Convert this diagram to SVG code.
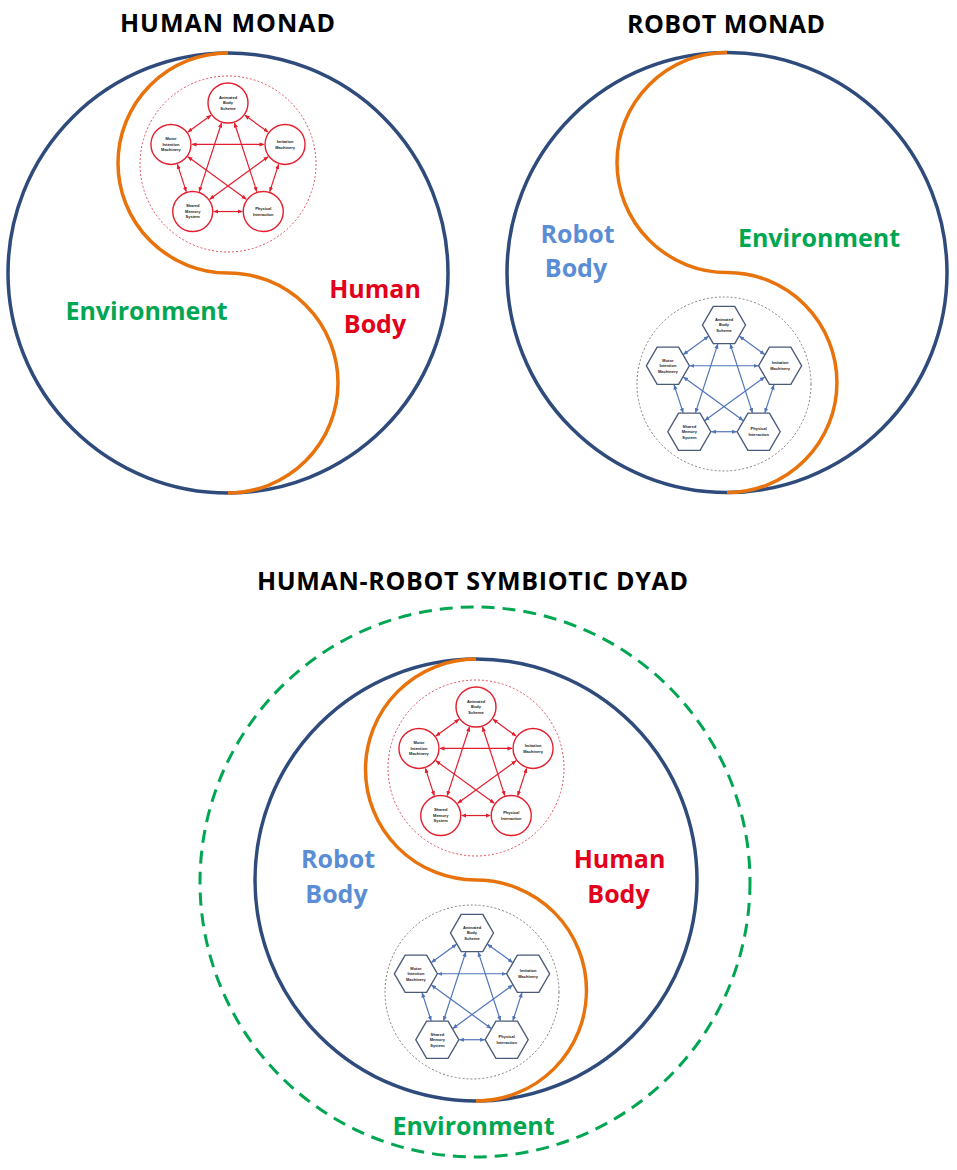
<svg xmlns="http://www.w3.org/2000/svg" width="957" height="1170" viewBox="0 0 957 1170">
<style>
.title{font-family:"Open Sans","Liberation Sans",sans-serif;font-weight:bold;font-size:25px;fill:#000;text-anchor:middle}
.lbl{font-family:"Open Sans","Liberation Sans",sans-serif;font-weight:bold;font-size:25px;text-anchor:middle}
.env{fill:#00a651}
.hum{fill:#e3001b}
.rob{fill:#5b8dd6}
.monad{fill:none;stroke:#2f4b7c;stroke-width:3.5}
.body{fill:none;stroke:#e8730c;stroke-width:3.5}
.envring{fill:none;stroke:#00a651;stroke-width:3;stroke-dasharray:13 8}
.rnode circle{fill:#fff;stroke:#e31e2d;stroke-width:1.4}
.hnode polygon{fill:#fff;stroke:#4a5a78;stroke-width:1.4}
.nt{font-family:"Liberation Sans",Arial,sans-serif;font-size:4px;font-weight:bold;fill:#222;text-anchor:middle}
.redge line{stroke:#e31e2d;stroke-width:1.2;marker-start:url(#ar);marker-end:url(#ar)}
.bedge line{stroke:#4f74b8;stroke-width:1.2;marker-start:url(#ab);marker-end:url(#ab)}
.rdot{fill:none;stroke:#e0505e;stroke-width:1;stroke-dasharray:2 2}
.gdot{fill:none;stroke:#7f7f7f;stroke-width:1;stroke-dasharray:2 2}
</style>
<defs>
<marker id="ar" viewBox="0 0 6 6" refX="5.5" refY="3" markerWidth="5" markerHeight="5" markerUnits="userSpaceOnUse" orient="auto-start-reverse"><path d="M0,0.5 L6,3 L0,5.5 z" fill="#e31e2d"/></marker>
<marker id="ab" viewBox="0 0 6 6" refX="5.5" refY="3" markerWidth="5" markerHeight="5" markerUnits="userSpaceOnUse" orient="auto-start-reverse"><path d="M0,0.5 L6,3 L0,5.5 z" fill="#4f74b8"/></marker>
</defs>
<rect width="957" height="1170" fill="#fff"/>

<!-- ===== HUMAN MONAD ===== -->
<text class="title" x="227.5" y="32" textLength="215">HUMAN MONAD</text>
<g id="human-monad">
<circle class="monad" cx="228" cy="273" r="220"/>
<path class="body" d="M228,53 A110,110 0 0 0 228,273 A110,110 0 0 1 228,493"/>
</g>
<g id="hm-network" transform="translate(228,163)">
<circle class="rdot" cx="0" cy="1" r="88"/>
<g class="redge" id="hm-connectors">
<line x1="16.99" y1="-47.65" x2="40.07" y2="-30.89"/>
<line x1="-16.99" y1="-47.65" x2="-40.07" y2="-30.89"/>
<line x1="50.57" y1="1.43" x2="41.76" y2="28.57"/>
<line x1="-50.57" y1="1.43" x2="-41.76" y2="28.57"/>
<line x1="-14.27" y1="48.54" x2="14.27" y2="48.54"/>
<line x1="6.49" y1="-40.03" x2="28.78" y2="28.57"/>
<line x1="-6.49" y1="-40.03" x2="-28.78" y2="28.57"/>
<line x1="-36.06" y1="-18.54" x2="36.06" y2="-18.54"/>
<line x1="-40.07" y1="-6.19" x2="18.28" y2="36.19"/>
<line x1="40.07" y1="-6.19" x2="-18.28" y2="36.19"/>
</g>
<g class="rnode" id="hm-animated" transform="translate(0,-60)"><circle r="20"/><text class="nt"><tspan x="0" y="-4.1">Animated</tspan><tspan x="0" y="1.4">Body</tspan><tspan x="0" y="6.9">Scheme</tspan></text></g>
<g class="rnode" id="hm-imitation" transform="translate(57.06,-18.54)"><circle r="20"/><text class="nt"><tspan x="0" y="-1.35">Imitation</tspan><tspan x="0" y="4.15">Machinery</tspan></text></g>
<g class="rnode" id="hm-physical" transform="translate(35.27,48.54)"><circle r="20"/><text class="nt"><tspan x="0" y="-1.35">Physical</tspan><tspan x="0" y="4.15">Interaction</tspan></text></g>
<g class="rnode" id="hm-shared" transform="translate(-35.27,48.54)"><circle r="20"/><text class="nt"><tspan x="0" y="-4.1">Shared</tspan><tspan x="0" y="1.4">Memory</tspan><tspan x="0" y="6.9">System</tspan></text></g>
<g class="rnode" id="hm-motor" transform="translate(-57.06,-18.54)"><circle r="20"/><text class="nt"><tspan x="0" y="-4.1">Motor</tspan><tspan x="0" y="1.4">Intention</tspan><tspan x="0" y="6.9">Machinery</tspan></text></g>
</g>
<text class="lbl env" x="146.5" y="320">Environment</text>
<text class="lbl hum" x="375" y="298">Human</text>
<text class="lbl hum" x="375" y="333">Body</text>

<!-- ===== ROBOT MONAD ===== -->
<text class="title" x="726" y="33" textLength="198">ROBOT MONAD</text>
<g id="robot-monad">
<circle class="monad" cx="727" cy="272.5" r="220"/>
<path class="body" d="M727,52.5 A110,110 0 0 0 727,272.5 A110,110 0 0 1 727,492.5"/>
</g>
<g id="rm-network" transform="translate(724,384)">
<circle class="gdot" cx="0" cy="0" r="87"/>
<g class="bedge" id="rm-connectors">
<line x1="15.53" y1="-47.71" x2="40.58" y2="-29.52"/>
<line x1="-15.53" y1="-47.71" x2="-40.58" y2="-29.52"/>
<line x1="49.90" y1="0.89" x2="40.89" y2="28.61"/>
<line x1="-49.90" y1="0.89" x2="-40.89" y2="28.61"/>
<line x1="-12.68" y1="47.73" x2="12.68" y2="47.73"/>
<line x1="6.21" y1="-39.88" x2="28.47" y2="28.61"/>
<line x1="-6.21" y1="-39.88" x2="-28.47" y2="28.61"/>
<line x1="-34.11" y1="-18.23" x2="34.11" y2="-18.23"/>
<line x1="-40.58" y1="-6.94" x2="19.15" y2="36.44"/>
<line x1="40.58" y1="-6.94" x2="-19.15" y2="36.44"/>
</g>
<g class="hnode" id="rm-animated" transform="translate(0,-59)"><polygon points="21.5,0 10.75,18.62 -10.75,18.62 -21.5,0 -10.75,-18.62 10.75,-18.62"/><text class="nt"><tspan x="0" y="-4.1">Animated</tspan><tspan x="0" y="1.4">Body</tspan><tspan x="0" y="6.9">Scheme</tspan></text></g>
<g class="hnode" id="rm-imitation" transform="translate(56.11,-18.23)"><polygon points="21.5,0 10.75,18.62 -10.75,18.62 -21.5,0 -10.75,-18.62 10.75,-18.62"/><text class="nt"><tspan x="0" y="-1.35">Imitation</tspan><tspan x="0" y="4.15">Machinery</tspan></text></g>
<g class="hnode" id="rm-physical" transform="translate(34.68,47.73)"><polygon points="21.5,0 10.75,18.62 -10.75,18.62 -21.5,0 -10.75,-18.62 10.75,-18.62"/><text class="nt"><tspan x="0" y="-1.35">Physical</tspan><tspan x="0" y="4.15">Interaction</tspan></text></g>
<g class="hnode" id="rm-shared" transform="translate(-34.68,47.73)"><polygon points="21.5,0 10.75,18.62 -10.75,18.62 -21.5,0 -10.75,-18.62 10.75,-18.62"/><text class="nt"><tspan x="0" y="-4.1">Shared</tspan><tspan x="0" y="1.4">Memory</tspan><tspan x="0" y="6.9">System</tspan></text></g>
<g class="hnode" id="rm-motor" transform="translate(-56.11,-18.23)"><polygon points="21.5,0 10.75,18.62 -10.75,18.62 -21.5,0 -10.75,-18.62 10.75,-18.62"/><text class="nt"><tspan x="0" y="-4.1">Motor</tspan><tspan x="0" y="1.4">Intention</tspan><tspan x="0" y="6.9">Machinery</tspan></text></g>
</g>
<text class="lbl rob" x="577.5" y="243">Robot</text>
<text class="lbl rob" x="576" y="277">Body</text>
<text class="lbl env" x="819" y="247">Environment</text>

<!-- ===== HUMAN-ROBOT SYMBIOTIC DYAD ===== -->
<text class="title" x="472.5" y="590" textLength="431">HUMAN-ROBOT SYMBIOTIC DYAD</text>
<g id="dyad">
<circle class="envring" cx="475" cy="882" r="275"/>
<circle class="monad" cx="476" cy="880" r="221"/>
<path class="body" d="M476,659 A110.5,110.5 0 0 0 476,880 A110.5,110.5 0 0 1 476,1101"/>
</g>
<g id="dh-network" transform="translate(476,767)">
<circle class="rdot" cx="0" cy="1" r="88"/>
<g class="redge" id="dh-connectors">
<line x1="16.99" y1="-47.65" x2="40.07" y2="-30.89"/>
<line x1="-16.99" y1="-47.65" x2="-40.07" y2="-30.89"/>
<line x1="50.57" y1="1.43" x2="41.76" y2="28.57"/>
<line x1="-50.57" y1="1.43" x2="-41.76" y2="28.57"/>
<line x1="-14.27" y1="48.54" x2="14.27" y2="48.54"/>
<line x1="6.49" y1="-40.03" x2="28.78" y2="28.57"/>
<line x1="-6.49" y1="-40.03" x2="-28.78" y2="28.57"/>
<line x1="-36.06" y1="-18.54" x2="36.06" y2="-18.54"/>
<line x1="-40.07" y1="-6.19" x2="18.28" y2="36.19"/>
<line x1="40.07" y1="-6.19" x2="-18.28" y2="36.19"/>
</g>
<g class="rnode" id="dh-animated" transform="translate(0,-60)"><circle r="20"/><text class="nt"><tspan x="0" y="-4.1">Animated</tspan><tspan x="0" y="1.4">Body</tspan><tspan x="0" y="6.9">Scheme</tspan></text></g>
<g class="rnode" id="dh-imitation" transform="translate(57.06,-18.54)"><circle r="20"/><text class="nt"><tspan x="0" y="-1.35">Imitation</tspan><tspan x="0" y="4.15">Machinery</tspan></text></g>
<g class="rnode" id="dh-physical" transform="translate(35.27,48.54)"><circle r="20"/><text class="nt"><tspan x="0" y="-1.35">Physical</tspan><tspan x="0" y="4.15">Interaction</tspan></text></g>
<g class="rnode" id="dh-shared" transform="translate(-35.27,48.54)"><circle r="20"/><text class="nt"><tspan x="0" y="-4.1">Shared</tspan><tspan x="0" y="1.4">Memory</tspan><tspan x="0" y="6.9">System</tspan></text></g>
<g class="rnode" id="dh-motor" transform="translate(-57.06,-18.54)"><circle r="20"/><text class="nt"><tspan x="0" y="-4.1">Motor</tspan><tspan x="0" y="1.4">Intention</tspan><tspan x="0" y="6.9">Machinery</tspan></text></g>
</g>
<g id="dr-network" transform="translate(472,992)">
<circle class="gdot" cx="0" cy="0" r="87"/>
<g class="bedge" id="dr-connectors">
<line x1="15.53" y1="-47.71" x2="40.58" y2="-29.52"/>
<line x1="-15.53" y1="-47.71" x2="-40.58" y2="-29.52"/>
<line x1="49.90" y1="0.89" x2="40.89" y2="28.61"/>
<line x1="-49.90" y1="0.89" x2="-40.89" y2="28.61"/>
<line x1="-12.68" y1="47.73" x2="12.68" y2="47.73"/>
<line x1="6.21" y1="-39.88" x2="28.47" y2="28.61"/>
<line x1="-6.21" y1="-39.88" x2="-28.47" y2="28.61"/>
<line x1="-34.11" y1="-18.23" x2="34.11" y2="-18.23"/>
<line x1="-40.58" y1="-6.94" x2="19.15" y2="36.44"/>
<line x1="40.58" y1="-6.94" x2="-19.15" y2="36.44"/>
</g>
<g class="hnode" id="dr-animated" transform="translate(0,-59)"><polygon points="21.5,0 10.75,18.62 -10.75,18.62 -21.5,0 -10.75,-18.62 10.75,-18.62"/><text class="nt"><tspan x="0" y="-4.1">Animated</tspan><tspan x="0" y="1.4">Body</tspan><tspan x="0" y="6.9">Scheme</tspan></text></g>
<g class="hnode" id="dr-imitation" transform="translate(56.11,-18.23)"><polygon points="21.5,0 10.75,18.62 -10.75,18.62 -21.5,0 -10.75,-18.62 10.75,-18.62"/><text class="nt"><tspan x="0" y="-1.35">Imitation</tspan><tspan x="0" y="4.15">Machinery</tspan></text></g>
<g class="hnode" id="dr-physical" transform="translate(34.68,47.73)"><polygon points="21.5,0 10.75,18.62 -10.75,18.62 -21.5,0 -10.75,-18.62 10.75,-18.62"/><text class="nt"><tspan x="0" y="-1.35">Physical</tspan><tspan x="0" y="4.15">Interaction</tspan></text></g>
<g class="hnode" id="dr-shared" transform="translate(-34.68,47.73)"><polygon points="21.5,0 10.75,18.62 -10.75,18.62 -21.5,0 -10.75,-18.62 10.75,-18.62"/><text class="nt"><tspan x="0" y="-4.1">Shared</tspan><tspan x="0" y="1.4">Memory</tspan><tspan x="0" y="6.9">System</tspan></text></g>
<g class="hnode" id="dr-motor" transform="translate(-56.11,-18.23)"><polygon points="21.5,0 10.75,18.62 -10.75,18.62 -21.5,0 -10.75,-18.62 10.75,-18.62"/><text class="nt"><tspan x="0" y="-4.1">Motor</tspan><tspan x="0" y="1.4">Intention</tspan><tspan x="0" y="6.9">Machinery</tspan></text></g>
</g>
<text class="lbl rob" x="338" y="868">Robot</text>
<text class="lbl rob" x="336.5" y="903">Body</text>
<text class="lbl hum" x="619.5" y="868">Human</text>
<text class="lbl hum" x="618.5" y="903">Body</text>
<text class="lbl env" x="473.5" y="1135">Environment</text>
</svg>
